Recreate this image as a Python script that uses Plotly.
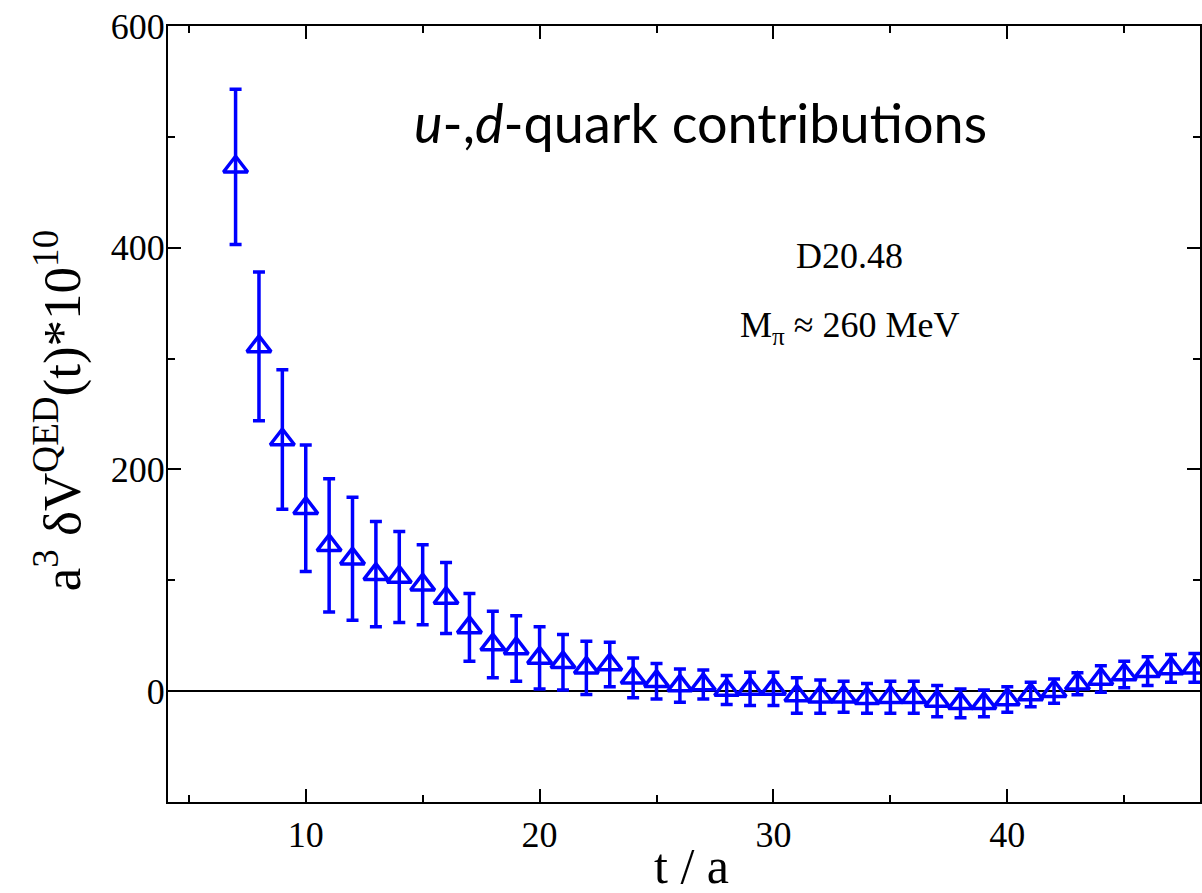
import plotly.graph_objects as go

# data
t_vals = list(range(7, 49))
v_vals = [473, 311, 227, 165, 131.5, 119.5, 105.5, 103, 96, 84,
          57.5, 42, 38.5, 30, 26, 21, 24, 12, 9, 5,
          6, 1, 2, 2, -4, -5, -5, -6.5, -5.5, -5.5,
          -9, -11, -11, -7.5, -3, 0, 6.7, 11, 15, 18,
          20.5, 21]
e_vals = [70, 67, 63, 57, 60, 55.5, 47.5, 41, 36, 32,
          30.5, 30, 29.5, 28, 25, 24, 20, 18, 16, 15,
          13, 13, 15, 15, 16, 15, 14, 13.5, 14.5, 14.5,
          14, 13, 12, 11.5, 11, 11, 10, 12, 12, 13,
          12.5, 13]

x_ticks = [10, 20, 30, 40, 50]
y_ticks = [0, 200, 400, 600]

W, H = 1202, 893
L, R, T, B = 168, 0, 26, 91
pw, ph = W - L - R, H - T - B


def px(x):
    return (x - L) / pw


def py(y):
    return (H - B - y) / ph


fig = go.Figure()
fig.add_trace(go.Scatter(
    x=t_vals, y=v_vals, mode="markers",
    marker=dict(symbol="triangle-up-open", size=21, color="#0000ff",
                line=dict(width=3.5, color="#0000ff")),
    error_y=dict(type="data", array=e_vals, visible=True,
                 color="#0000ff", thickness=3.5, width=6),
    showlegend=False,
))

axis_font = dict(family="Liberation Serif", size=36, color="black")
common = dict(showline=True, linewidth=2, linecolor="black", mirror="ticks",
              ticks="inside", ticklen=13, tickwidth=2, tickcolor="black",
              showgrid=False, tickfont=axis_font)

fig.update_xaxes(range=[4.11, 48.24], tickmode="array", tickvals=x_ticks,
                 zeroline=False,
                 minor=dict(ticks="inside", ticklen=7, tickwidth=2,
                            tickcolor="black", dtick=5, tick0=0, showgrid=False),
                 **common)
fig.update_yaxes(range=[-100, 600], tickmode="array", tickvals=y_ticks,
                 zeroline=True, zerolinecolor="black", zerolinewidth=2,
                 ticklabelstandoff=-6,
                 minor=dict(ticks="inside", ticklen=7, tickwidth=2,
                            tickcolor="black", dtick=100, tick0=0, showgrid=False),
                 **common)

ann = []
ann.append(dict(text="<i>u</i>-,<i>d</i>-quark contributions",
                x=px(702), y=py(122), xref="paper", yref="paper",
                xanchor="center", yanchor="middle", showarrow=False,
                font=dict(family="Lato", size=54, color="black")))
ann.append(dict(text="D20.48", x=px(851), y=py(256), xref="paper", yref="paper",
                xanchor="center", yanchor="middle", showarrow=False,
                font=dict(family="Liberation Serif", size=36, color="black")))
ann.append(dict(text="M<sub>π</sub> ≈ 260 MeV", x=px(851), y=py(328),
                xref="paper", yref="paper",
                xanchor="center", yanchor="middle", showarrow=False,
                font=dict(family="Liberation Serif", size=36, color="black")))
ann.append(dict(text="t / a", x=px(693), y=py(866), xref="paper", yref="paper",
                xanchor="center", yanchor="middle", showarrow=False,
                font=dict(family="Liberation Serif", size=50, color="black")))
ann.append(dict(text="a<sup>3</sup> δV<sup>QED</sup>(t)*10<sup>10</sup>",
                x=px(58), y=py(411), xref="paper", yref="paper",
                xanchor="center", yanchor="middle", showarrow=False,
                textangle=-90,
                font=dict(family="Liberation Serif", size=53, color="black")))

fig.update_layout(width=W, height=H, margin=dict(l=L, r=R, t=T, b=B),
                  paper_bgcolor="white", plot_bgcolor="white",
                  annotations=ann)

fig.write_html("out.html")
